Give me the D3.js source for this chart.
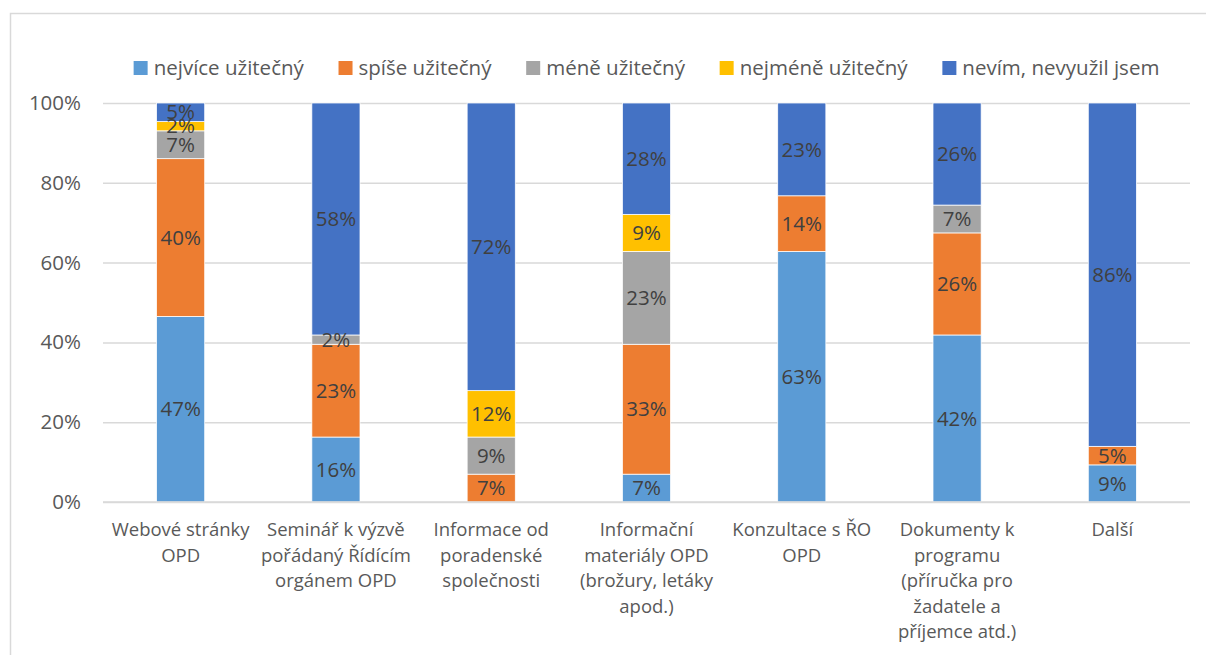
<!DOCTYPE html>
<html lang="cs">
<head>
<meta charset="utf-8">
<title>Užitečnost zdrojů informací</title>
<script src="https://cdnjs.cloudflare.com/ajax/libs/d3/7.8.5/d3.min.js"></script>
<style>
    body { margin: 0; background: #fff; }
    svg text { font-family: "Open Sans", "Noto Sans", sans-serif; }
</style>
</head>
<body>
<div id="chart"></div>
<script>
    // categories (tick labels, already split in lines as in the original)
    var categories = [
        ["Webové stránky", "OPD"],
        ["Seminář k výzvě", "pořádaný Řídícím", "orgánem OPD"],
        ["Informace od", "poradenské", "společnosti"],
        ["Informační", "materiály OPD", "(brožury, letáky", "apod.)"],
        ["Konzultace s ŘO", "OPD"],
        ["Dokumenty k", "programu", "(příručka pro", "žadatele a", "příjemce atd.)"],
        ["Další"]
    ];

    var seriesNames = ["nejvíce užitečný", "spíše užitečný", "méně užitečný", "nejméně užitečný", "nevím, nevyužil jsem"];

    // answer counts per category (43 respondents)
    var nejvice  = [20, 7, 0, 3, 27, 18, 4];
    var spise    = [17, 10, 3, 14, 6, 11, 2];
    var mene     = [3, 1, 4, 10, 0, 3, 0];
    var nejmene  = [1, 0, 5, 4, 0, 0, 0];
    var nevim    = [2, 25, 31, 12, 10, 11, 37];

    var yTicks = [0, 0.2, 0.4, 0.6, 0.8, 1];

    var colors = ["#5B9BD5", "#ED7D31", "#A5A5A5", "#FFC000", "#4472C4"];

    var W = 1206, H = 655;
    var margin = {left: 103, right: 16, top: 103, bottom: 153};

    var rows = categories.map(function (c, i) {
        var r = {idx: i};
        var vals = [nejvice[i], spise[i], mene[i], nejmene[i], nevim[i]];
        var tot = d3.sum(vals);
        seriesNames.forEach(function (s, j) { r[s] = vals[j] / tot; });
        return r;
    });

    var svg = d3.select("#chart").append("svg")
        .attr("width", W).attr("height", H);

    // chart frame
    svg.append("rect")
        .attr("x", 10.5).attr("y", 13.5)
        .attr("width", W + 20).attr("height", H + 20)
        .attr("fill", "none").attr("stroke", "#d9d9d9").attr("stroke-width", 1.5);

    var x = d3.scaleBand().domain(d3.range(categories.length))
        .range([margin.left, W - margin.right])
        .paddingInner(0.69).paddingOuter(0.345);
    var y = d3.scaleLinear().domain([0, 1]).range([H - margin.bottom, margin.top]);

    // gridlines + y labels
    var yAxis = svg.append("g").attr("transform", "translate(" + margin.left + ",0)")
        .call(d3.axisLeft(y).tickValues(yTicks).tickFormat(d3.format(".0%"))
            .tickSize(-(W - margin.right - margin.left)).tickPadding(22));
    yAxis.select(".domain").remove();
    yAxis.selectAll("line").attr("stroke", "#d9d9d9").attr("stroke-width", 1.5);
    yAxis.selectAll("text").attr("fill", "#595959").attr("font-size", "20.5px");

    var stack = d3.stack().keys(seriesNames);
    var layers = stack(rows);

    var g = svg.append("g");
    layers.forEach(function (layer, li) {
        var lg = g.append("g").attr("fill", colors[li]);
        lg.selectAll("rect").data(layer).join("rect")
            .attr("x", function (d) { return x(d.data.idx); })
            .attr("width", x.bandwidth())
            .attr("y", function (d) { return y(d[1]); })
            .attr("height", function (d) { return y(d[0]) - y(d[1]); })
            .attr("stroke", "#fff").attr("stroke-width", 0.75);
    });

    // value labels
    layers.forEach(function (layer) {
        g.append("g").selectAll("text")
            .data(layer.filter(function (d) { return d[1] - d[0] > 0; }))
            .join("text")
            .attr("x", function (d) { return x(d.data.idx) + x.bandwidth() / 2; })
            .attr("y", function (d) { return (y(d[0]) + y(d[1])) / 2; })
            .attr("dy", "0.35em")
            .attr("text-anchor", "middle")
            .attr("fill", "#404040").attr("font-size", "20.5px")
            .text(function (d) { return Math.round((d[1] - d[0]) * 100) + "%"; });
    });

    // x axis line
    svg.append("line")
        .attr("x1", margin.left).attr("x2", W - margin.right)
        .attr("y1", y(0)).attr("y2", y(0))
        .attr("stroke", "#d9d9d9").attr("stroke-width", 1.5);

    // category labels
    var cat = svg.append("g").selectAll("text").data(categories).join("text")
        .attr("text-anchor", "middle")
        .attr("fill", "#595959").attr("font-size", "18.5px");
    cat.each(function (lines, i) {
        d3.select(this).selectAll("tspan").data(lines).join("tspan")
            .attr("x", x(i) + x.bandwidth() / 2)
            .attr("y", function (d, k) { return 536 + k * 25.5; })
            .text(function (d) { return d; });
    });

    // legend
    var legend = svg.append("g");
    var items = legend.selectAll("g").data(seriesNames).join("g");
    items.append("rect").attr("width", 14).attr("height", 14).attr("y", -7)
        .attr("fill", function (d, i) { return colors[i]; });
    items.append("text").attr("x", 20).attr("dy", "0.35em")
        .attr("fill", "#595959").attr("font-size", "20.5px")
        .text(function (d) { return d; });
    var pos = 0, offsets = [];
    items.each(function () {
        offsets.push(pos);
        pos += this.getBBox().width + 34;
    });
    pos -= 34;
    var start = (margin.left + W - margin.right) / 2 - pos / 2;
    items.attr("transform", function (d, i) { return "translate(" + (start + offsets[i]) + ",68)"; });
</script>
</body>
</html>
